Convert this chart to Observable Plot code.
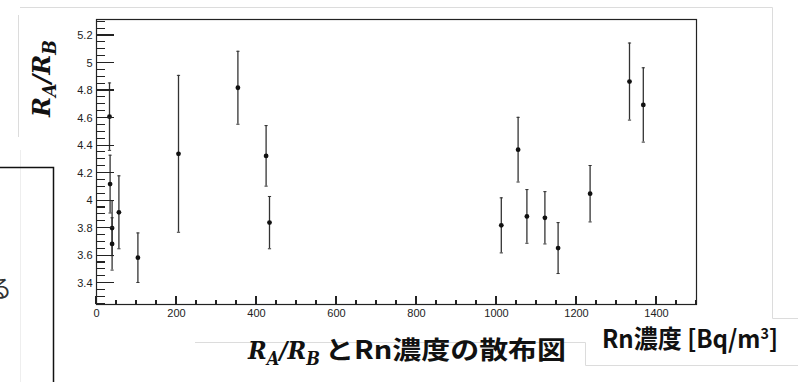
<!DOCTYPE html>
<html><head><meta charset="utf-8">
<script src="https://cdn.jsdelivr.net/npm/d3@7"></script>
<script src="https://cdn.jsdelivr.net/npm/@observablehq/plot@0.6"></script>
<style>body{margin:0;background:#fff;} svg{display:block;}</style>
</head><body><div id="chart"></div>
<script>
// Data (Rn concentration [Bq/m3], ratio RA/RB, error)
const rnConc   = [32.5, 34, 39, 39, 56, 103.5, 205, 353.5, 424, 432.5, 1012, 1054, 1076, 1121, 1154, 1234, 1332.5, 1367];
const ratio    = [4.61, 4.12, 3.80, 3.685, 3.915, 3.585, 4.34, 4.82, 4.325, 3.84, 3.82, 4.37, 3.885, 3.875, 3.655, 4.05, 4.865, 4.695];
const ratioErr = [0.245, 0.21, 0.20, 0.19, 0.265, 0.18, 0.57, 0.265, 0.22, 0.19, 0.20, 0.235, 0.195, 0.19, 0.185, 0.205, 0.28, 0.27];

const yTicks = [3.4, 3.6, 3.8, 4.0, 4.2, 4.4, 4.6, 4.8, 5.0, 5.2];
const yTickLabels = ["3.4", "3.6", "3.8", "4", "4.2", "4.4", "4.6", "4.8", "5", "5.2"];
const xTicks = [0, 200, 400, 600, 800, 1000, 1200, 1400];
const xTickLabels = ["0", "200", "400", "600", "800", "1000", "1200", "1400"];

const xTitle = "Rn濃度 [Bq/m";
const titleText = "とRn濃度の散布図";
const sideText = "る";

const data = rnConc.map((rn, i) => ({rn, ratio: ratio[i], err: ratioErr[i]}));
const yMinor = d3.range(65, 107).map(i => i * 0.05);
const xMinor = d3.range(0, 31).map(i => i * 50);

const W = 798, H = 382, mL = 96, mR = 102, mT = 19, mB = 78;

const capSymbol = {draw(ctx, size) { const r = Math.sqrt(size / Math.PI); ctx.moveTo(-r, 0); ctx.lineTo(r, 0); }};

const plot = Plot.plot({
  width: W, height: H,
  marginLeft: mL, marginRight: mR, marginTop: mT, marginBottom: mB,
  style: {fontFamily: "'Liberation Sans', Arial, sans-serif", fontSize: "11px", color: "#222", background: "#fff"},
  x: {domain: [0, 1500]},
  y: {domain: [3.245, 5.316]},
  marks: [
    Plot.frame({stroke: "#222", strokeWidth: 1.2}),
    Plot.axisY({ticks: yTicks, tickSize: 0, tickPadding: 4, tickFormat: d => yTickLabels[yTicks.indexOf(d)], label: null}),
    Plot.axisX({ticks: xTicks, tickSize: 0, tickPadding: 5, tickFormat: d => xTickLabels[xTicks.indexOf(d)], label: null}),
    // error bars
    Plot.ruleX(data, {x: "rn", y1: d => d.ratio - d.err, y2: d => d.ratio + d.err, stroke: "#333", strokeWidth: 1.3}),
    Plot.dot(data, {x: "rn", y: d => d.ratio + d.err, symbol: capSymbol, r: 1.6, stroke: "#333", fill: "none", strokeWidth: 1}),
    Plot.dot(data, {x: "rn", y: d => d.ratio - d.err, symbol: capSymbol, r: 1.6, stroke: "#333", fill: "none", strokeWidth: 1}),
    Plot.dot(data, {x: "rn", y: "ratio", r: 2.4, fill: "#111", stroke: "none"})
  ]
});

const svg = d3.select(plot);
const xs = plot.scale("x"), ys = plot.scale("y");
const x0 = xs.apply(0), yB = ys.apply(3.245);

// inward ROOT-style ticks, positioned with Plot's own scales
const tk = svg.append("g").attr("stroke", "#222").attr("stroke-width", 1.1).attr("shape-rendering", "crispEdges");
[[yMinor, 9], [yTicks, 18]].forEach(([vals, len]) => {
  tk.selectAll(null).data(vals).join("line")
    .attr("x1", x0).attr("x2", x0 + len)
    .attr("y1", d => ys.apply(d)).attr("y2", d => ys.apply(d));
});
[[xMinor, 4], [xTicks, 8]].forEach(([vals, len]) => {
  tk.selectAll(null).data(vals).join("line")
    .attr("x1", d => xs.apply(d)).attr("x2", d => xs.apply(d))
    .attr("y1", yB).attr("y2", yB - len);
});

// faint slide frames
const faint = svg.insert("g", ":first-child").attr("fill", "none").attr("stroke", "#dcdcdc").attr("stroke-width", 1);
faint.append("path").attr("d", "M18.5,137V15M20,7.5H772.5V318.5H798");
faint.append("path").attr("d", "M195,342.5H585.5V365.5H798");
faint.append("path").attr("d", "M20.5,150V382").attr("stroke", "#eeeeee");

// left black box
svg.append("path").attr("d", "M0,167.5H53.5V382").attr("fill", "none").attr("stroke", "#111").attr("stroke-width", 1.5);
svg.append("text").attr("x", 12).attr("y", 297).attr("text-anchor", "end")
  .attr("font-family", "'Noto Sans CJK JP', sans-serif").attr("font-size", 24).attr("fill", "#333").text(sideText);

function ratioLabel(sel, size) {
  sel.attr("font-family", "'DejaVu Serif', serif").attr("font-weight", "bold").attr("font-style", "italic")
    .attr("font-size", size).attr("fill", "#111");
  const sub = Math.round(size * 0.7), d = Math.round(size * 0.24);
  sel.append("tspan").text("R");
  sel.append("tspan").attr("font-size", sub).attr("dy", d).text("A");
  sel.append("tspan").attr("dy", -d).text("/R");
  sel.append("tspan").attr("font-size", sub).attr("dy", d).text("B");
  return sel;
}

// y-axis title
ratioLabel(svg.append("text").attr("transform", "translate(50,78.5) rotate(-90)").attr("text-anchor", "middle")
  .attr("textLength", 77).attr("lengthAdjust", "spacingAndGlyphs"), 25);

// x-axis title
const xt = svg.append("text").attr("x", 602).attr("y", 348).attr("text-anchor", "start")
  .attr("font-family", "'Noto Sans CJK JP', sans-serif").attr("font-weight", "bold").attr("font-size", 25).attr("fill", "#111")
  .attr("textLength", 176).attr("lengthAdjust", "spacingAndGlyphs");
xt.append("tspan").text(xTitle);
xt.append("tspan").attr("font-size", 15).attr("dy", -9).text("3");
xt.append("tspan").attr("dy", 9).text("]");

// bottom title
ratioLabel(svg.append("text").attr("x", 248).attr("y", 359).attr("text-anchor", "start")
  .attr("textLength", 72).attr("lengthAdjust", "spacingAndGlyphs"), 25);
svg.append("text").attr("x", 325).attr("y", 359).attr("text-anchor", "start")
  .attr("font-family", "'Noto Sans CJK JP', sans-serif").attr("font-weight", "bold").attr("font-size", 25).attr("fill", "#111")
  .attr("textLength", 241).attr("lengthAdjust", "spacingAndGlyphs").text(titleText);

document.getElementById("chart").appendChild(plot);
</script>
</body></html>
